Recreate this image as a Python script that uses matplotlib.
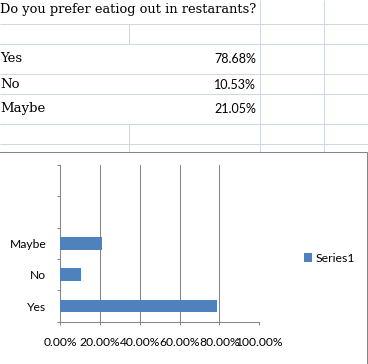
import matplotlib.pyplot as plt
from matplotlib.patches import Rectangle

# data from the sheet
question = "Do you prefer eatiog out in restarants?"
answers = ["Yes", "No", "Maybe"]
percents = [78.68, 10.53, 21.05]
slots = ["Yes", "No", "Maybe", "", ""]   # chart range had 2 empty rows
xticks = [0, 20, 40, 60, 80, 100]

W, H = 368, 364
fig = plt.figure(figsize=(W / 100, H / 100), dpi=100)
fig.patch.set_facecolor("white")

def fx(x):
  return x / W

def fy(y):
  return 1 - y / H

# spreadsheet background
bg = fig.add_axes([0, 0, 1, 1], zorder=0)
bg.set_xlim(0, W)
bg.set_ylim(H, 0)
bg.axis("off")

grid_c = "#d0d7e5"
for y in [23.5, 43.5, 73.5, 93.5, 123.5, 143.5]:
  bg.hlines(y, 0, W, color=grid_c, lw=0.75)
for x in [259.5, 323.5]:
  bg.vlines(x, 0, H, color=grid_c, lw=0.75)
bg.vlines(128.5, 23.5, 43.5, color=grid_c, lw=0.75)
bg.vlines(128.5, 123.5, H, color=grid_c, lw=0.75)

bg.text(0, 12.5, question, family="DejaVu Serif", fontsize=9.35,
        va="baseline", ha="left")
rows_y = [62, 88, 112]
for lab, val, y in zip(answers, percents, rows_y):
  bg.text(0, y, lab, family="DejaVu Serif", fontsize=9.5,
          va="baseline", ha="left")
  bg.text(256, y + 1.3, f"{val:.2f}%", family="Lato", fontsize=9,
          va="baseline", ha="right")

# chart area
bg.add_patch(Rectangle((-2, 151.5), 369, 220, facecolor="white",
                       edgecolor="#868686", lw=0.75, zorder=5))

# plot area
axc = "#868686"
ax = fig.add_axes([fx(60.3), fy(321.7), fx(259) - fx(60.3), fy(165) - fy(321.7)],
                  zorder=2)
ax.patch.set_alpha(0)
bars = ax.barh(range(len(answers)), [p / 100 for p in percents], height=0.4,
               color="#4f81bd", label="Series1", zorder=3)
ax.set_xlim(0, 1)
ax.set_ylim(-0.5, len(slots) - 0.5)

ax.set_xticks([t / 100 for t in xticks])
ax.set_xticklabels([f"{t:.2f}%" for t in xticks])
ax.set_yticks(range(len(slots)))
ax.set_yticklabels(slots)
ax.set_yticks([i - 0.5 for i in range(len(slots) + 1)], minor=True)

ax.tick_params(axis="y", which="major", length=0, pad=10)
ax.tick_params(axis="y", which="minor", length=2.5, width=0.75, color=axc,
               direction="out")
ax.tick_params(axis="x", length=2.5, width=0.75, color=axc, direction="out", pad=8.5)
for lab in ax.get_xticklabels() + ax.get_yticklabels():
  lab.set_family("Lato")
  lab.set_fontsize(8.7)

ax.grid(axis="x", color=axc, lw=0.75, zorder=1)
ax.set_axisbelow(True)
for s in ["top", "right"]:
  ax.spines[s].set_visible(False)
for s in ["left", "bottom"]:
  ax.spines[s].set_color(axc)
  ax.spines[s].set_linewidth(0.75)

fig.legend(handles=[bars], labels=["Series1"], loc="center left",
           bbox_to_anchor=(fx(303.5), fy(258)), frameon=False,
           handlelength=0.7, handleheight=0.7, handletextpad=0.3,
           borderpad=0, borderaxespad=0, prop={"family": "Lato", "size": 8.8})

fig.savefig("out.png", dpi=100)
